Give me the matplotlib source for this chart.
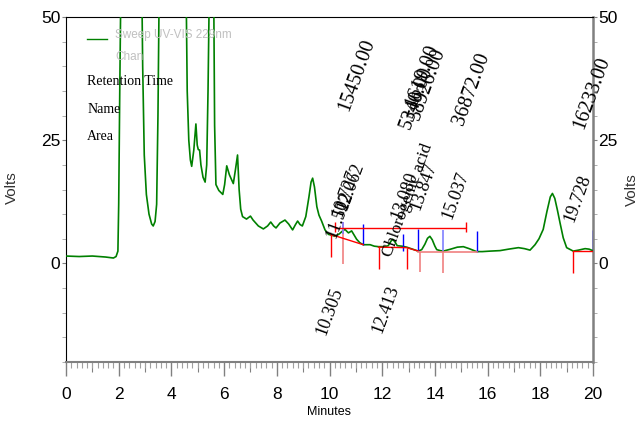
import matplotlib
matplotlib.use("Agg")
import matplotlib.pyplot as plt
from matplotlib.ticker import MultipleLocator

# chromatogram trace (minutes, volts); peaks above 50 are off scale
t = [0.0, 0.5, 1.0, 1.5, 1.8, 1.9, 1.97, 2.0, 2.04, 2.08, 2.5, 2.88, 2.91, 2.97, 3.05,
     3.15, 3.25, 3.31, 3.38, 3.44, 3.49, 3.53, 4.0, 4.56, 4.6, 4.66, 4.72, 4.77, 4.85,
     4.93, 4.98, 5.02, 5.07, 5.12, 5.2, 5.28, 5.34, 5.39, 5.43, 5.53, 5.61, 5.64, 5.69,
     5.8, 5.95, 6.02, 6.1, 6.2, 6.35, 6.43, 6.51, 6.57, 6.63, 6.7, 6.85, 7.0, 7.1, 7.3,
     7.49, 7.65, 7.77, 7.88, 7.97, 8.12, 8.31, 8.45, 8.6, 8.7, 8.79, 8.88, 8.97, 9.1,
     9.22, 9.3, 9.36, 9.43, 9.52, 9.6, 9.7, 9.83, 9.96, 10.1, 10.2, 10.35, 10.5, 10.59,
     10.66, 10.72, 10.84, 10.93, 11.03, 11.15, 11.28, 11.54, 11.7, 11.86, 12.1, 12.23,
     12.33, 12.4, 12.48, 12.57, 12.75, 12.93, 13.15, 13.37, 13.5, 13.62, 13.72, 13.81,
     13.9, 14.0, 14.07, 14.2, 14.32, 14.6, 14.85, 15.08, 15.3, 15.58, 15.8, 16.1, 16.47,
     16.8, 17.17, 17.4, 17.61, 17.8, 17.95, 18.11, 18.25, 18.38, 18.46, 18.55, 18.65,
     18.75, 18.87, 19.0, 19.25, 19.45, 19.7, 19.85, 19.99]
volts = [1.5, 1.4, 1.5, 1.3, 1.1, 1.4, 2.5, 12, 35, 55, 95, 55, 40, 22, 14,
         10, 8, 7.6, 8.5, 12, 30, 52, 90, 55, 35, 25, 21, 19.7, 23,
         28.3, 24, 23.1, 23, 20, 17.5, 16.5, 20, 35, 52, 90, 52, 28, 16,
         14.8, 14, 16, 19.8, 18, 16.2, 19, 22, 15, 11, 9.5, 9.0, 9.6, 8.8, 7.6,
         7.0, 7.6, 8.4, 7.6, 7.2, 8.2, 8.8, 8.0, 6.8, 7.8, 8.6, 7.9, 7.6, 9.5,
         13.5, 16.5, 17.3, 15.5, 11.5, 9.8, 8.6, 6.8, 5.9, 5.7, 5.5, 5.9, 6.6, 6.9,
         6.5, 6.2, 6.6, 5.8, 4.9, 4.2, 3.8, 3.8, 3.5, 3.4, 3.4, 3.6,
         4.5, 4.9, 4.4, 3.6, 3.5, 3.3, 2.9, 2.5, 2.8, 3.9, 5.1, 5.5,
         4.8, 3.5, 2.8, 2.6, 2.5, 2.9, 3.3, 3.4, 3.0, 2.4, 2.4, 2.5, 2.6,
         2.9, 3.2, 3.0, 2.7, 3.8, 5.0, 6.9, 10.5, 13.5, 14.2, 13.2, 10.8,
         8.2, 5.2, 3.2, 2.5, 2.7, 3.0, 2.9, 2.6]

# integration marks
red_t = [10.04, 11.86, 12.93, 19.23]
red_top = [5.9, 3.3, 3.2, 2.5]
red_bot = [1.4, -1.1, -1.2, -2.0]
pink_t = [10.52, 13.43, 14.32]
pink_top = [8.4, 2.4, 2.4]
pink_bot = [-0.2, -1.8, -1.9]
blue_t = [11.28, 12.78, 13.37, 15.61, 19.99]
blue_top = [8.1, 5.9, 6.9, 6.6, 6.8]
blue_bot = [3.8, 2.5, 2.5, 2.3, 2.5]
lblue_t = [10.52, 14.30]
lblue_top = [8.4, 6.8]
lblue_bot = [5.9, 2.5]

# baselines
base_t = [[10.04, 11.28], [11.86, 12.93, 13.37], [19.23, 19.99]]
base_v = [[5.9, 3.8], [3.3, 3.2, 2.5], [2.5, 2.5]]
pbase_t = [13.37, 15.61]
pbase_v = [2.4, 2.4]

# group bracket
brk_t = [10.2, 15.18]
brk_v = 7.2
brk_top = 8.4
brk_bot = 6.3

# peak labels
area_txt = ["15450.00", "5340.00", "1619.00", "58926.00", "36872.00", "16233.00"]
area_t = [10.70, 13.05, 13.24, 13.37, 15.08, 19.63]
area_v = [30.8, 27.1, 31.5, 28.8, 27.8, 27.1]
rt_txt = ["11.522", "10.727", "12.062", "13.080", "13.847", "15.037", "19.728"]
rt_t = [10.21, 10.46, 10.65, 12.68, 13.43, 14.64, 19.25]
rt_v = [4.9, 9.2, 10.6, 8.9, 10.6, 8.9, 8.2]
low_txt = ["10.305", "12.413"]
low_t = [9.83, 11.98]
low_v = [-14.8, -14.4]
name_txt = ["Chlorogenic acid"]
name_t = [12.36]
name_v = [1.2]

xticks = list(range(0, 21, 2))
yticks = [0, 25, 50]

serif = ["Liberation Serif", "DejaVu Serif"]
sans = ["Liberation Sans", "DejaVu Sans"]

fig = plt.figure(figsize=(6.42, 4.23), dpi=100)
ax = fig.add_axes([66 / 642, 1 - 362 / 423, (593 - 66) / 642, (362 - 17) / 423])

ax.plot(t, volts, color="#008000", lw=1.2, zorder=3)

ax.vlines(red_t, red_bot, red_top, color="red", lw=1.0, zorder=4)
ax.vlines(pink_t, pink_bot, pink_top, color="#f08080", lw=1.2, zorder=4)
ax.vlines(blue_t, blue_bot, blue_top, color="blue", lw=1.0, zorder=4)
ax.vlines(lblue_t, lblue_bot, lblue_top, color="#8080ff", lw=1.2, zorder=4)
for bt, bv in zip(base_t, base_v):
    ax.plot(bt, bv, color="red", lw=1.0, zorder=4)
ax.plot(pbase_t, pbase_v, color="#f08080", lw=1.2, zorder=4)
ax.hlines(brk_v, brk_t[0], brk_t[1], color="red", lw=1.0, zorder=4)
ax.vlines(brk_t, brk_bot, brk_top, color="red", lw=1.0, zorder=4)

rot = 70
for s, x, y in zip(area_txt, area_t, area_v):
    ax.text(x, y, s, rotation=rot, rotation_mode="anchor", ha="left", va="baseline",
            family=serif, fontsize=14.5, zorder=5)
for s, x, y in zip(rt_txt, rt_t, rt_v):
    ax.text(x, y, s, rotation=rot, rotation_mode="anchor", ha="left", va="baseline",
            family=serif, fontsize=13, zorder=5)
for s, x, y in zip(low_txt, low_t, low_v):
    ax.text(x, y, s, rotation=rot, rotation_mode="anchor", ha="left", va="baseline",
            family=serif, fontsize=13, zorder=5)
for s, x, y in zip(name_txt, name_t, name_v):
    ax.text(x, y, s, rotation=rot, rotation_mode="anchor", ha="left", va="baseline",
            family=serif, fontsize=12.5, zorder=5)

# legend-like block top left
ax.plot([0.8, 1.55], [45.5, 45.5], color="#008000", lw=1.0, clip_on=False)
ax.text(1.86, 45.7, "Sweep UV-VIS 229nm", family=sans, fontsize=8.5, color="#c0c0c0", va="baseline")
ax.text(1.86, 41.3, "Chan", family=sans, fontsize=8.5, color="#c0c0c0", va="baseline")
ax.text(0.8, 36.2, "Retention Time", family=serif, fontsize=10, va="baseline")
ax.text(0.8, 30.6, "Name", family=serif, fontsize=10, va="baseline")
ax.text(0.8, 25.1, "Area", family=serif, fontsize=10, va="baseline")

ax.set_xlim(0, 20)
ax.set_ylim(-20, 50)
ax.set_xticks(xticks)
ax.xaxis.set_minor_locator(MultipleLocator(0.2))
ax.set_yticks(yticks)
ax.yaxis.set_minor_locator(MultipleLocator(5))
ax.tick_params(axis="x", which="major", length=10, width=1, color="#808080",
               labelsize=12.5, pad=8)
ax.tick_params(axis="x", which="minor", length=4, width=0.8, color="#a0a0a0")
ax.tick_params(axis="y", which="major", length=3, color="#808080", labelsize=12.5, pad=1,
               left=True, right=True, labelleft=True, labelright=True)
ax.tick_params(axis="y", which="minor", length=3, color="#a0a0a0", left=True, right=True)
for lab in ax.get_xticklabels() + ax.get_yticklabels():
    lab.set_family(sans)

# medium ticks on odd minutes
sec = ax.secondary_xaxis("bottom")
sec.set_xticks(list(range(1, 20, 2)))
sec.set_xticklabels([])
sec.tick_params(length=7, width=0.8, color="#808080")
sec.spines["bottom"].set_visible(False)

ax.spines["left"].set_color("black")
ax.spines["top"].set_color("black")
ax.spines["right"].set_color("#808080")
ax.spines["right"].set_linewidth(1.8)
ax.spines["bottom"].set_color("#808080")
ax.spines["bottom"].set_linewidth(1.5)

ax.set_xlabel("Minutes", family=sans, fontsize=9, labelpad=3)
fig.text(12 / 642, 1 - 188 / 423, "Volts", rotation=90, family=sans, fontsize=11,
         color="#333333", ha="center", va="center")
fig.text(632 / 642, 1 - 190 / 423, "Volts", rotation=90, family=sans, fontsize=11,
         color="#333333", ha="center", va="center")

fig.savefig("out.png", dpi=100)
